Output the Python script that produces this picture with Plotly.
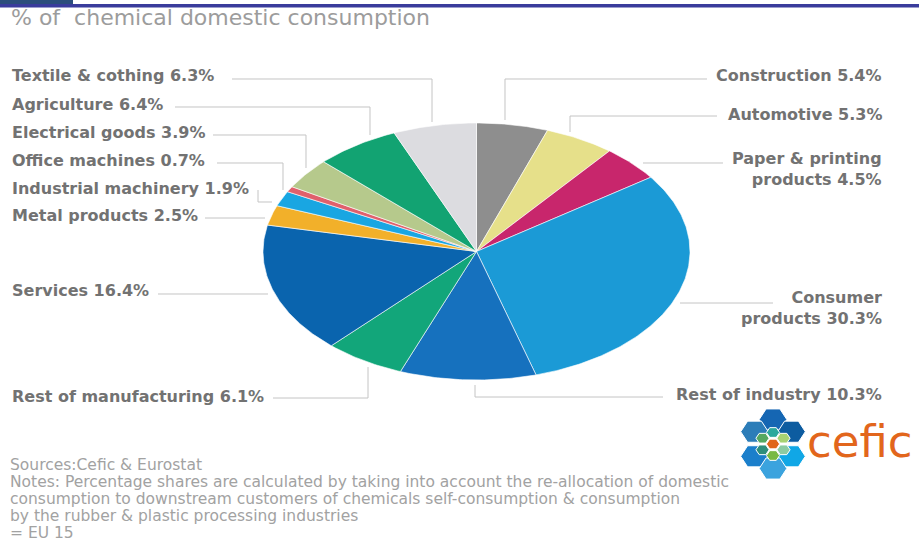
import numpy as np
import plotly.graph_objects as go

W, H = 919, 544

# Shares of chemical domestic consumption (%), clockwise from 12 o'clock
sectors = ["Construction", "Automotive", "Paper & printing products", "Consumer products",
           "Rest of industry", "Rest of manufacturing", "Services", "Metal products",
           "Industrial machinery", "Office machines", "Electrical goods", "Agriculture",
           "Textile & cothing"]
shares = [5.4, 5.3, 4.5, 30.3, 10.3, 6.1, 16.4, 2.5, 1.9, 0.7, 3.9, 6.4, 6.3]
label_names = ["Construction", "Automotive", "Paper & printing<br>products", "Consumer<br>products",
               "Rest of industry", "Rest of manufacturing", "Services", "Metal products",
               "Industrial machinery", "Office machines", "Electrical goods", "Agriculture",
               "Textile & cothing"]
slice_colors = ["#8e8e8e", "#e6e08a", "#c8266c", "#1b9ad6", "#1671be", "#12a67a", "#0a64ae",
                "#f2b02a", "#19a6e2", "#e0606c", "#b6c98c", "#12a372", "#dcdce0"]

title_text = "% of\u00a0 chemical domestic consumption"
footnotes = [
    "Sources:Cefic & Eurostat",
    "Notes: Percentage shares are calculated by taking into account the re-allocation of domestic",
    "consumption to downstream customers of chemicals self-consumption & consumption",
    "by the rubber & plastic processing industries",
    "= EU 15",
]

# ---- layout constants (pixels from top-left of the page) ----
PIE_BOX = dict(left=263, right=690, top=123, bottom=380)
LABEL_POS = {  # x, y (text centre), side
    "Construction": (884, 75, "right"),
    "Automotive": (884, 114, "right"),
    "Paper & printing products": (884, 169, "right"),
    "Consumer products": (884, 308, "right"),
    "Rest of industry": (884, 394, "right"),
    "Rest of manufacturing": (10, 396, "left"),
    "Services": (10, 290, "left"),
    "Metal products": (10, 216, "left"),
    "Industrial machinery": (10, 188, "left"),
    "Office machines": (10, 160, "left"),
    "Electrical goods": (10, 132, "left"),
    "Agriculture": (10, 104, "left"),
    "Textile & cothing": (10, 75, "left"),
}
LEADERS = {
    "Textile & cothing": [(232, 79), (432, 79), (432, 122)],
    "Agriculture": [(175, 107), (370, 107), (370, 135)],
    "Electrical goods": [(213, 135), (306, 135), (306, 168)],
    "Office machines": [(217, 163), (283, 163), (283, 190)],
    "Industrial machinery": [(258, 190), (258, 202), (272, 202)],
    "Metal products": [(205, 218), (265, 218)],
    "Services": [(158, 294), (268, 294)],
    "Rest of manufacturing": [(273, 398), (368, 398), (368, 367)],
    "Construction": [(707, 79), (505, 79), (505, 120)],
    "Automotive": [(717, 116), (570, 116), (570, 132)],
    "Paper & printing products": [(723, 163), (643, 163)],
    "Consumer products": [(773, 303), (680, 303)],
    "Rest of industry": [(663, 397), (475, 397), (475, 385)],
}


def px(x):
    return x / W


def py(y):
    return 1 - y / H


fig = go.Figure()

# Pie slices drawn as wedges of the unit circle; the axis domain stretches it
total = sum(shares)
acc = 0.0
for name, val, col in zip(sectors, shares, slice_colors):
    t0 = acc / total * 2 * np.pi
    t1 = (acc + val) / total * 2 * np.pi
    t = np.linspace(t0, t1, max(10, int(val * 5)))
    xs = np.concatenate([[0.0], np.sin(t), [0.0]])
    ys = np.concatenate([[0.0], np.cos(t), [0.0]])
    fig.add_trace(go.Scatter(
        x=xs, y=ys, mode="lines", fill="toself", fillcolor=col,
        line=dict(color="white", width=0.6), name=name,
        hoveron="fills", hoverinfo="text", text=f"{name}: {val:.1f}%",
        showlegend=False,
    ))
    acc += val

shapes = []
# header bars
shapes.append(dict(type="rect", xref="paper", yref="paper", x0=0, x1=px(73), y0=py(4), y1=py(0),
                   fillcolor="#2c4e7c", line_width=0, layer="above"))
shapes.append(dict(type="rect", xref="paper", yref="paper", x0=0, x1=1, y0=py(7.5), y1=py(4),
                   fillcolor="#3a3c9c", line_width=0, layer="above"))

# leader lines
for name, pts in LEADERS.items():
    path = "M " + " L ".join(f"{px(x):.5f},{py(y):.5f}" for x, y in pts)
    shapes.append(dict(type="path", xref="paper", yref="paper", path=path,
                       line=dict(color="#c4c4c4", width=1), layer="below"))


# logo: clusters of flat-topped hexagons
def hexagon(cx, cy, rx, ry, color, lw):
    pts = [(cx + rx * np.cos(a), cy + ry * np.sin(a)) for a in np.radians(np.arange(0, 360, 60))]
    path = "M " + " L ".join(f"{px(x):.5f},{py(y):.5f}" for x, y in pts) + " Z"
    return dict(type="path", xref="paper", yref="paper", path=path, fillcolor=color,
                line=dict(color="white", width=lw), layer="above")


LX, LY = 773, 444
outer = [((0, -24.5), "#1566b3"), ((-18.5, -12.3), "#2c7db8"), ((18.5, -12.3), "#0d5ca0"),
         ((-18.5, 12.3), "#1b7fcb"), ((18.5, 12.3), "#10a7e6"), ((0, 24.5), "#3ba3de")]
inner = [((0, 0), "#e0661a"), ((0, -11.5), "#2ba89c"), ((-10.5, -5.8), "#55a860"),
         ((10.5, -5.8), "#a8d272"), ((-10.5, 5.8), "#2e8e7a"), ((10.5, 5.8), "#8ccba2"),
         ((0, 11.5), "#78b944")]
for (dx, dy), c in outer:
    shapes.append(hexagon(LX + dx, LY + dy, 13.8, 12.2, c, 1.0))
for (dx, dy), c in inner:
    shapes.append(hexagon(LX + dx, LY + dy, 6.6, 5.6, c, 1.0))

annotations = []
# title
annotations.append(dict(xref="paper", yref="paper", x=px(9), y=py(18), xanchor="left", yanchor="middle",
                        text=title_text, showarrow=False,
                        font=dict(family="DejaVu Sans", size=22, color="#9c9c9c")))
# slice labels
for name, lname, val in zip(sectors, label_names, shares):
    x, y, side = LABEL_POS[name]
    annotations.append(dict(xref="paper", yref="paper", x=px(x), y=py(y), xanchor=side, yanchor="middle",
                            align=side, text=f"{lname} {val:.1f}%", showarrow=False,
                            font=dict(family="DejaVu Sans", size=16, color="#727272", weight="bold")))
# footnotes
for i, line in enumerate(footnotes):
    annotations.append(dict(xref="paper", yref="paper", x=px(9), y=py(465 + i * 17), xanchor="left",
                            yanchor="middle", text=line, showarrow=False, borderpad=0,
                            font=dict(family="DejaVu Sans", size=15.5, color="#a2a2a2")))
# logo wordmark
annotations.append(dict(xref="paper", yref="paper", x=px(805), y=py(441), xanchor="left", yanchor="middle",
                        text="cefic", showarrow=False,
                        font=dict(family="DejaVu Sans", size=45, color="#e2661c")))

fig.update_layout(
    width=W, height=H,
    margin=dict(l=0, r=0, t=0, b=0),
    paper_bgcolor="white", plot_bgcolor="rgba(0,0,0,0)",
    xaxis=dict(domain=[px(PIE_BOX["left"]), px(PIE_BOX["right"])], range=[-1, 1], visible=False,
               fixedrange=True),
    yaxis=dict(domain=[py(PIE_BOX["bottom"]), py(PIE_BOX["top"])], range=[-1, 1], visible=False,
               fixedrange=True),
    shapes=shapes,
    annotations=annotations,
    showlegend=False,
)

fig.write_html("out.html")
